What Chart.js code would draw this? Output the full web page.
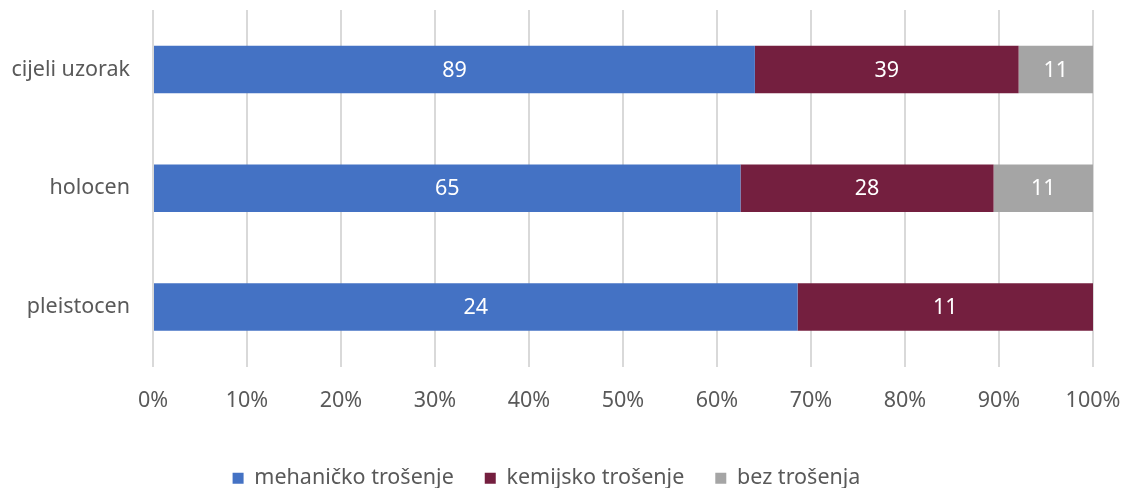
<!DOCTYPE html>
<html>
<head>
<meta charset="utf-8">
<script src="https://cdn.jsdelivr.net/npm/chart.js@4.4.0/dist/chart.umd.min.js"></script>
<style>
  html, body { margin: 0; padding: 0; background: #fff; }
  #wrap { width: 1127px; height: 488px; }
</style>
</head>
<body>
<div id="wrap"><canvas id="trosenjeChart"></canvas></div>
<script>
// categories and raw counts per type of weathering
const categories = ['cijeli uzorak', 'holocen', 'pleistocen'];
const mehanicko = [89, 65, 24];
const kemijsko = [39, 28, 11];
const bezTrosenja = [11, 11, 0];
const seriesNames = ['mehaničko trošenje', 'kemijsko trošenje', 'bez trošenja'];
const seriesColors = ['#4472C4', '#741F3F', '#A5A5A5'];

const FONT = "'Noto Sans', sans-serif";
const FS = 21.5;
const TEXT = '#595959';

// 100% stacked: convert counts to shares of each category total
const totals = categories.map((c, i) => mehanicko[i] + kemijsko[i] + bezTrosenja[i]);
const toPct = arr => arr.map((v, i) => v / totals[i] * 100);
const rawSeries = [mehanicko, kemijsko, bezTrosenja];

// draws the counts inside each segment
const valueLabels = {
  id: 'valueLabels',
  afterDatasetsDraw(chart) {
    const ctx = chart.ctx;
    ctx.save();
    ctx.fillStyle = '#fff';
    ctx.font = FS + 'px ' + FONT;
    ctx.textAlign = 'center';
    ctx.textBaseline = 'middle';
    chart.data.datasets.forEach((ds, di) => {
      chart.getDatasetMeta(di).data.forEach((bar, i) => {
        const v = rawSeries[di][i];
        if (!v) return;
        ctx.fillText(String(v), (bar.x + bar.base) / 2, bar.y + 1);
      });
    });
    ctx.restore();
  }
};

new Chart(document.getElementById('trosenjeChart'), {
  type: 'bar',
  data: {
    labels: categories,
    datasets: rawSeries.map((arr, i) => ({
      label: seriesNames[i],
      data: toPct(arr),
      backgroundColor: seriesColors[i],
      borderWidth: 0,
      categoryPercentage: 1,
      barPercentage: 0.4
    }))
  },
  options: {
    indexAxis: 'y',
    responsive: true,
    maintainAspectRatio: false,
    animation: false,
    layout: { padding: { top: 10, right: 34, left: 0, bottom: -11 } },
    scales: {
      x: {
        stacked: true,
        min: 0,
        max: 100,
        ticks: {
          stepSize: 10,
          color: TEXT,
          font: { family: FONT, size: FS },
          padding: 21,
          callback: v => v + '%'
        },
        grid: { color: '#D9D9D9', lineWidth: 2, drawTicks: false },
        border: { display: false },
        afterFit: s => { s.height = 70; s.paddingLeft = 0; s.paddingRight = 0; }
      },
      y: {
        stacked: true,
        ticks: {
          color: TEXT,
          font: { family: FONT, size: FS },
          padding: 23
        },
        grid: { display: false, drawTicks: false },
        border: { display: false },
        afterFit: s => { s.width = 153; s.paddingTop = 0; s.paddingBottom = 0; }
      }
    },
    plugins: {
      legend: {
        position: 'bottom',
        labels: {
          color: TEXT,
          font: { family: FONT, size: FS },
          boxWidth: 11,
          boxHeight: 11,
          padding: 31
        }
      },
      tooltip: { enabled: false }
    }
  },
  plugins: [valueLabels]
});
</script>
</body>
</html>
